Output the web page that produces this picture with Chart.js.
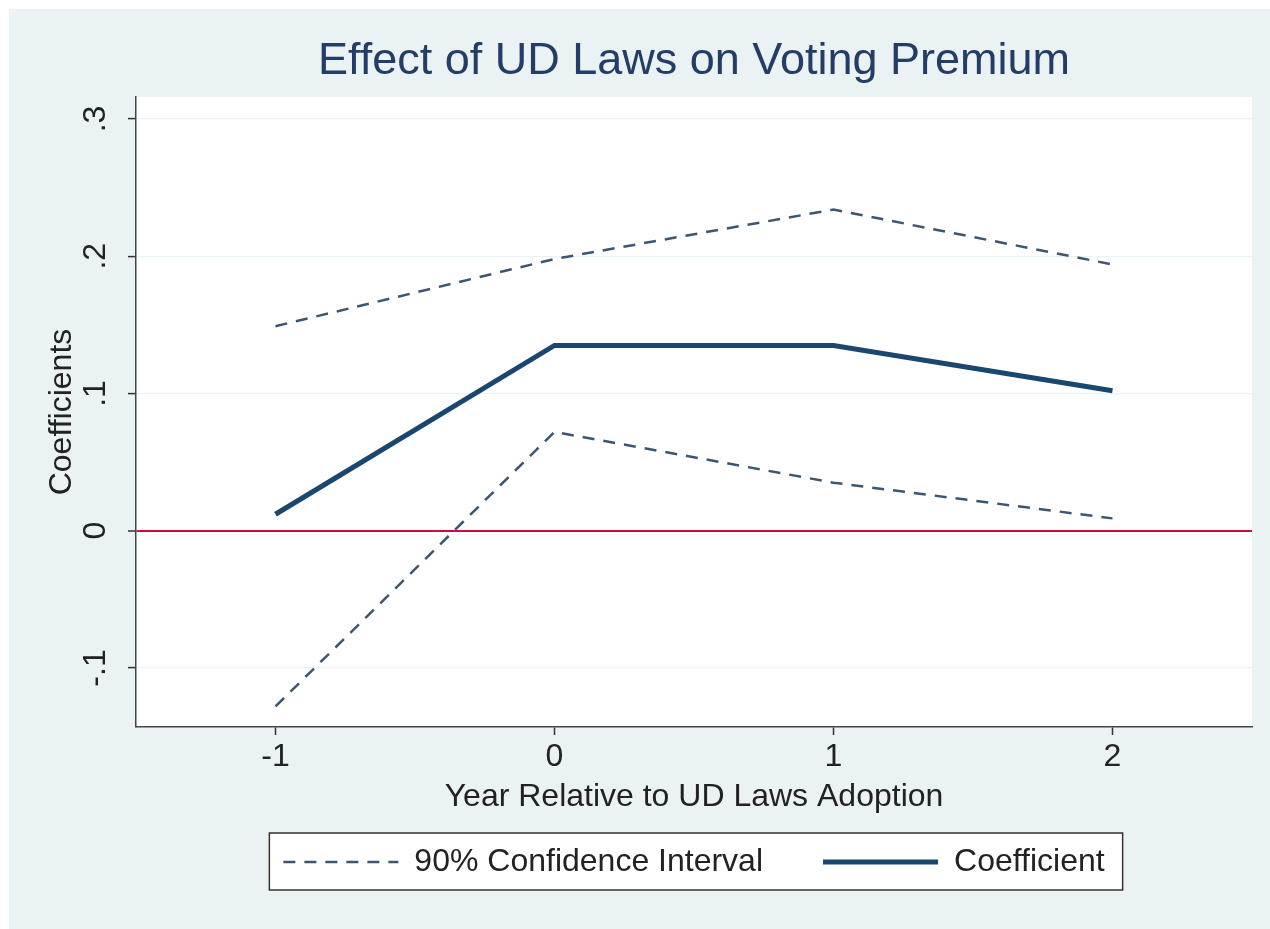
<!DOCTYPE html>
<html>
<head>
<meta charset="utf-8">
<title>Effect of UD Laws on Voting Premium</title>
<script src="https://cdn.jsdelivr.net/npm/chart.js@4.4.1/dist/chart.umd.min.js"></script>
<style>
  html, body { margin: 0; padding: 0; background: #ffffff; }
  #wrap { position: absolute; left: 9px; top: 9px; width: 1261px; height: 920px; }
</style>
</head>
<body>
<div id="wrap"><canvas id="chart" width="1261" height="920"></canvas></div>
<script>
// data
const years = [-1, 0, 1, 2];
const coefficient = [0.012, 0.135, 0.135, 0.102];
const ciUpper = [0.149, 0.198, 0.234, 0.194];
const ciLower = [-0.128, 0.072, 0.035, 0.009];

const xTicks = [-1, 0, 1, 2];
const yTicks = [-0.1, 0, 0.1, 0.2, 0.3];
const yTickLabels = ["-.1", "0", ".1", ".2", ".3"];

const NAVY = "#1a476f";
const CI_COLOR = "#3d5670";
const FONT = "'Liberation Sans', Arial, sans-serif";

function pts(vals) {
  return years.map((x, i) => ({ x: x, y: vals[i] }));
}

// background: light blue-gray frame, white plot region, white legend box
const backgroundPlugin = {
  id: "stataBackground",
  beforeDraw(chart) {
    const ctx = chart.ctx;
    const a = chart.chartArea;
    ctx.save();
    ctx.fillStyle = "#eaf2f3";
    ctx.fillRect(0, 0, chart.width, chart.height);
    ctx.fillStyle = "#ffffff";
    ctx.fillRect(a.left, a.top, a.right - a.left, a.bottom - a.top);

    const boxes = chart.legend && chart.legend.legendHitBoxes;
    if (boxes && boxes.length) {
      let l = Infinity, r = -Infinity, cy = 0;
      boxes.forEach(b => {
        l = Math.min(l, b.left);
        r = Math.max(r, b.left + b.width);
        cy = b.top + b.height / 2;
      });
      const x0 = l - 14, x1 = r + 18;
      const y0 = cy - 29, y1 = cy + 28;
      ctx.fillStyle = "#ffffff";
      ctx.fillRect(x0, y0, x1 - x0, y1 - y0);
      ctx.strokeStyle = "#333333";
      ctx.lineWidth = 1.5;
      ctx.strokeRect(x0, y0, x1 - x0, y1 - y0);
    }
    ctx.restore();
  }
};

const config = {
  type: "line",
  data: {
    datasets: [
      {
        label: "90% Confidence Interval",
        data: pts(ciUpper),
        borderColor: CI_COLOR,
        borderWidth: 2.5,
        borderDash: [12, 9],
        pointRadius: 0,
        tension: 0
      },
      {
        label: "lower",
        data: pts(ciLower),
        borderColor: CI_COLOR,
        borderWidth: 2.5,
        borderDash: [12, 9],
        pointRadius: 0,
        tension: 0
      },
      {
        label: "Coefficient",
        data: pts(coefficient),
        borderColor: NAVY,
        borderWidth: 5,
        pointRadius: 0,
        tension: 0
      }
    ]
  },
  options: {
    responsive: false,
    animation: false,
    devicePixelRatio: 1,
    layout: { padding: { left: 0, right: 18, top: 0, bottom: 41 } },
    plugins: {
      title: {
        display: true,
        fullSize: false,
        text: "Effect of UD Laws on Voting Premium",
        color: "#233d66",
        font: { family: FONT, size: 45, weight: "normal" },
        padding: { top: 26, bottom: 8 }
      },
      legend: {
        position: "bottom",
        fullSize: false,
        labels: {
          filter: item => item.text !== "lower",
          generateLabels: chart => {
            const items = Chart.defaults.plugins.legend.labels.generateLabels(chart);
            items.forEach(it => {
              const ds = chart.data.datasets[it.datasetIndex];
              it.lineDash = ds.borderDash || [];
              it.lineWidth = ds.borderWidth;
              it.strokeStyle = ds.borderColor;
            });
            return items;
          },
          usePointStyle: true,
          pointStyle: "line",
          pointStyleWidth: 115,
          boxHeight: 32,
          padding: 60,
          color: "#222222",
          font: { family: FONT, size: 32 }
        }
      },
      tooltip: { enabled: false }
    },
    scales: {
      x: {
        type: "linear",
        min: -1.5,
        max: 2.5,
        afterBuildTicks: s => { s.ticks = xTicks.map(v => ({ value: v })); },
        afterFit: s => { s.height = 59; },
        grid: { drawOnChartArea: false, tickLength: 8, tickColor: "#333333", tickWidth: 1.5 },
        border: { color: "#444444", width: 1.5 },
        ticks: {
          padding: 2.8,
          color: "#222222",
          font: { family: FONT, size: 32 },
          callback: v => String(v)
        },
        title: {
          display: true,
          text: "Year Relative to UD Laws Adoption",
          color: "#222222",
          font: { family: FONT, size: 32 },
          padding: { top: 0, bottom: -30.2 }
        }
      },
      y: {
        type: "linear",
        min: -0.143,
        max: 0.316,
        afterBuildTicks: s => { s.ticks = yTicks.map(v => ({ value: v })); },
        afterFit: s => { s.width = 127; },
        grid: {
          tickLength: 8,
          tickColor: "#333333",
          tickWidth: 1.5,
          color: c => (c.tick && Math.abs(c.tick.value) < 1e-9 ? "#c8103e" : "#eaf2f3"),
          lineWidth: c => (c.tick && Math.abs(c.tick.value) < 1e-9 ? 2 : 1.2)
        },
        border: { color: "#444444", width: 1.5 },
        ticks: {
          minRotation: 90,
          maxRotation: 90,
          crossAlign: "center",
          padding: 13.3,
          color: "#222222",
          font: { family: FONT, size: 32 },
          callback: v => {
            const i = yTicks.findIndex(t => Math.abs(t - v) < 1e-9);
            return i >= 0 ? yTickLabels[i] : "";
          }
        },
        title: {
          display: true,
          text: "Coefficients",
          color: "#222222",
          font: { family: FONT, size: 32 },
          padding: { top: 33.8, bottom: 0 }
        }
      }
    }
  },
  plugins: [backgroundPlugin]
};

new Chart(document.getElementById("chart"), config);
</script>
</body>
</html>
